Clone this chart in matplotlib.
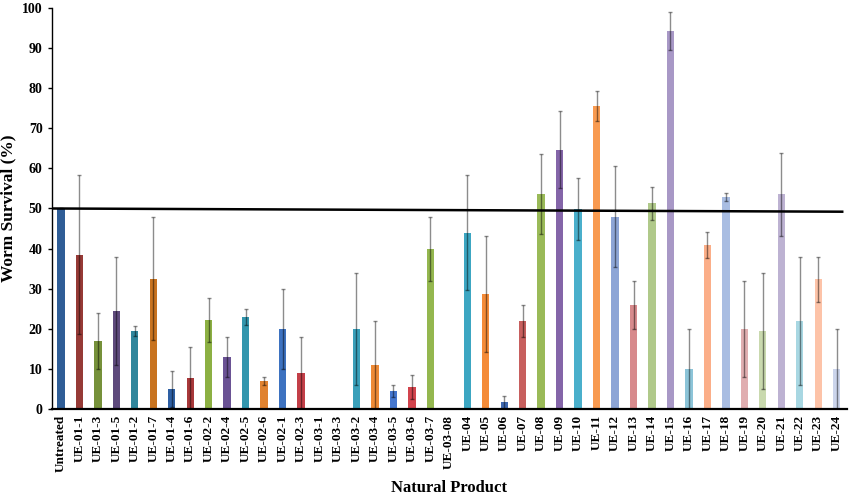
import matplotlib
matplotlib.use("Agg")
import matplotlib.pyplot as plt

categories = ["Untreated", "UE-01-1", "UE-01-3", "UE-01-5", "UE-01-2", "UE-01-7",
              "UE-01-4", "UE-01-6", "UE-02-2", "UE-02-4", "UE-02-5", "UE-02-6",
              "UE-02-1", "UE-02-3", "UE-03-1", "UE-03-3", "UE-03-2", "UE-03-4",
              "UE-03-5", "UE-03-6", "UE-03-7", "UE-03-08", "UE-04", "UE-05",
              "UE-06", "UE-07", "UE-08", "UE-09", "UE-10", "UE-11", "UE-12",
              "UE-13", "UE-14", "UE-15", "UE-16", "UE-17", "UE-18", "UE-19",
              "UE-20", "UE-21", "UE-22", "UE-23", "UE-24"]

survival = [50, 38.5, 17, 24.5, 19.5, 32.5,
            5, 7.7, 22.3, 13, 23, 7,
            20, 9, 0, 0, 20, 11,
            4.5, 5.6, 40, 0, 44, 28.7,
            1.7, 22, 53.7, 64.7, 49.8, 75.6, 48,
            26, 51.3, 94.3, 10, 40.9, 52.9, 20,
            19.5, 53.5, 22, 32.3, 10]

errors = [0, 19.8, 7, 13.5, 1.3, 15.3,
          4.6, 7.7, 5.5, 5, 2, 1,
          10, 9, 0, 0, 14, 11,
          1.5, 3, 8, 0, 14.3, 14.5,
          1.6, 4, 10, 9.7, 7.7, 3.8, 12.6,
          6, 4.1, 4.7, 10, 3.2, 1, 12,
          14.5, 10.4, 16, 5.5, 10]

threshold_line = [50, 49.2]

colors = ["#2F5D96", "#963A36", "#76913A", "#5E4A7C", "#31869C", "#C8731F",
          "#2E5FA3", "#A8383A", "#8CB043", "#6A5294", "#3396AD", "#E0822F",
          "#3D72C0", "#C33F48", "#8CB043", "#6A5294", "#3AA0BA", "#EE8A35",
          "#4476CE", "#D2444D", "#94B74F", "#7E62A6", "#3CA6C2", "#F48B38",
          "#3E68B0", "#C75F5E", "#9ABA58", "#8465A8", "#4AAFCB", "#F89A50",
          "#8DA5D6", "#D78A8C", "#B0C98A", "#A898C6", "#8CC4D8", "#FBAE88",
          "#A9BDE2", "#E0AEB0", "#C9D9AE", "#BDB2D2", "#A8D7E2", "#FDC3A8",
          "#CBD4EB"]

plt.rcParams['font.family'] = ['Liberation Serif', 'DejaVu Serif']
plt.rcParams['font.weight'] = 'bold'

fig = plt.figure(figsize=(8.5, 4.97), dpi=100)
ax = fig.add_axes([0.0608, 0.177, 0.9357, 0.807])

n = len(categories)
x = list(range(n))
ax.bar(x, survival, width=0.4, color=colors, zorder=2)
ax.errorbar(x, survival, yerr=errors, fmt='none', ecolor='black', alpha=0.45,
            elinewidth=1.0, capsize=1.2, capthick=1.0, zorder=3)

ax.plot([-0.5, n - 0.7], threshold_line, color='black', linewidth=1.8, zorder=4)

ax.set_xlim(-0.5, n - 0.44)
ax.set_ylim(0, 100)
ax.set_yticks(range(0, 101, 10))
ax.set_xticks(x)
ax.set_xticklabels(categories, rotation=90, fontsize=9.5, fontweight='bold')
ax.tick_params(axis='x', length=0, pad=4)
ax.tick_params(axis='y', labelsize=10, length=3, width=1, direction='out')
for lbl in ax.get_yticklabels():
    lbl.set_fontweight('bold')

ax.spines['top'].set_visible(False)
ax.spines['right'].set_visible(False)
ax.spines['left'].set_linewidth(1.0)
ax.spines['bottom'].set_linewidth(1.6)

ax.set_ylabel("Worm Survival (%)", fontsize=12.5, fontweight='bold', labelpad=4)
ax.set_xlabel("Natural Product", fontsize=12, fontweight='bold', labelpad=6)

fig.savefig("out.png", dpi=100)
